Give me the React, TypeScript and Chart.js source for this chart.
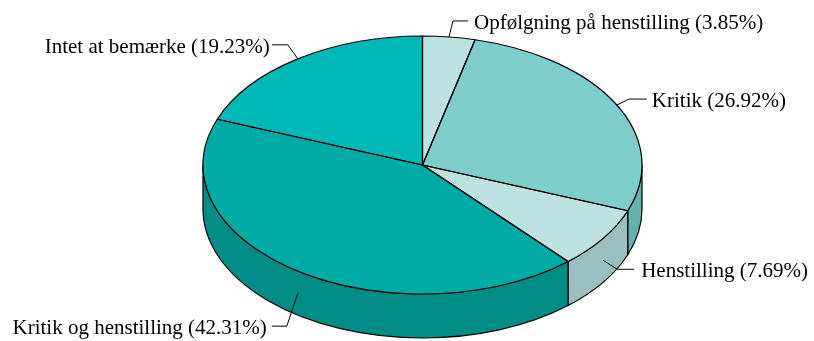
import { useEffect, useRef } from "react";
import { Chart, registerables } from "chart.js";

Chart.register(...registerables);

const categories = [
  "Opfølgning på henstilling",
  "Kritik",
  "Henstilling",
  "Kritik og henstilling",
  "Intet at bemærke",
];
const shares = [3.85, 26.92, 7.69, 42.31, 19.23];
const valueLabels = ["3.85%", "26.92%", "7.69%", "42.31%", "19.23%"];
const topColors = ["#bde3e1", "#7ecdcb", "#bde3e1", "#00aaa5", "#00b9b6"];
const sideColors = ["#9bbfbf", "#66b0ad", "#9bbfbf", "#008c87", "#009a97"];

// layout of the 3D ellipse
const CX = 422.5;
const CY = 165;
const RX = 219.5;
const RY = 129;
const DEPTH = 44;
const FONT = "21px 'Liberation Serif', 'Times New Roman', serif";

// leader line layout per slice: onSide, elbow offset, horizontal length, text gap
const leaders = [
  { side: false, ex: 4, ey: -16, hx: 15, gap: 6 },
  { side: false, ex: 12, ey: -6, hx: 18, gap: 5 },
  { side: true, ex: 14, ey: 9, hx: 17, gap: 7 },
  { side: true, ex: -11, ey: 33, hx: -15, gap: 5 },
  { side: false, ex: -10, ey: -14, hx: -16, gap: 2 },
];

const pt = (a: number, dy = 0) => [CX + RX * Math.cos(a), CY + RY * Math.sin(a) + dy];

const pie3d = {
  id: "pie3d",
  beforeDatasetsDraw(chart: any) {
    const ctx = chart.ctx as CanvasRenderingContext2D;
    const arcs = chart.getDatasetMeta(0).data;
    ctx.save();
    ctx.lineWidth = 1.2;
    ctx.strokeStyle = "#000";
    ctx.lineJoin = "round";
    arcs.forEach((arc: any, i: number) => {
      const s0 = arc.startAngle;
      const e0 = arc.endAngle;
      // visible front range is [0, PI] (and equivalents)
      for (const off of [0, 2 * Math.PI, -2 * Math.PI]) {
        const s = Math.max(s0 + off, 0);
        const e = Math.min(e0 + off, Math.PI);
        if (e - s <= 1e-6) continue;
        ctx.beginPath();
        ctx.ellipse(CX, CY, RX, RY, 0, s, e, false);
        ctx.ellipse(CX, CY + DEPTH, RX, RY, 0, e, s, true);
        ctx.closePath();
        ctx.fillStyle = sideColors[i];
        ctx.fill();
        ctx.stroke();
      }
    });
    ctx.restore();
    // transform so the library draws the top faces as an ellipse
    const a0 = arcs[0];
    const R = a0.outerRadius;
    ctx.save();
    ctx.translate(CX, CY);
    ctx.scale(RX / R, RY / R);
    ctx.translate(-a0.x, -a0.y);
  },
  afterDatasetsDraw(chart: any) {
    const ctx = chart.ctx as CanvasRenderingContext2D;
    ctx.restore();
    const arcs = chart.getDatasetMeta(0).data;
    ctx.save();
    ctx.lineWidth = 1.2;
    ctx.strokeStyle = "#000";
    ctx.lineJoin = "round";
    arcs.forEach((arc: any) => {
      ctx.beginPath();
      ctx.moveTo(CX, CY);
      ctx.ellipse(CX, CY, RX, RY, 0, arc.startAngle, arc.endAngle, false);
      ctx.closePath();
      ctx.stroke();
    });
    // labels
    ctx.font = FONT;
    ctx.fillStyle = "#000";
    ctx.textBaseline = "alphabetic";
    ctx.lineWidth = 1;
    ctx.strokeStyle = "#000";
    arcs.forEach((arc: any, i: number) => {
      const L = leaders[i];
      const mid = (arc.startAngle + arc.endAngle) / 2;
      const [ax, ay] = pt(mid, L.side ? DEPTH / 2 : 0);
      const bx = ax + L.ex;
      const by = ay + L.ey;
      const cx = bx + L.hx;
      ctx.beginPath();
      ctx.moveTo(ax, ay);
      ctx.lineTo(bx, by);
      ctx.lineTo(cx, by);
      ctx.stroke();
      const text = `${categories[i]} (${valueLabels[i]})`;
      if (L.hx > 0) {
        ctx.textAlign = "left";
        ctx.fillText(text, cx + L.gap, by + 8);
      } else {
        ctx.textAlign = "right";
        ctx.fillText(text, cx - L.gap, by + 8);
      }
    });
    ctx.restore();
  },
};

export default function App() {
  const ref = useRef<HTMLCanvasElement | null>(null);
  useEffect(() => {
    if (!ref.current) return;
    const chart = new Chart(ref.current, {
      type: "pie",
      data: {
        labels: categories,
        datasets: [
          {
            data: shares,
            backgroundColor: topColors,
            borderWidth: 0,
            clip: false,
          } as any,
        ],
      },
      options: {
        animation: false,
        responsive: false,
        events: [],
        layout: { padding: 0 },
        plugins: {
          legend: { display: false },
          tooltip: { enabled: false },
        },
      },
      plugins: [pie3d],
    });
    return () => chart.destroy();
  }, []);
  return (
    <div style={{ position: "fixed", left: 0, top: 0, width: 814, height: 341, background: "#fff" }}>
      <canvas ref={ref} width={814} height={341} style={{ display: "block" }} />
    </div>
  );
}
